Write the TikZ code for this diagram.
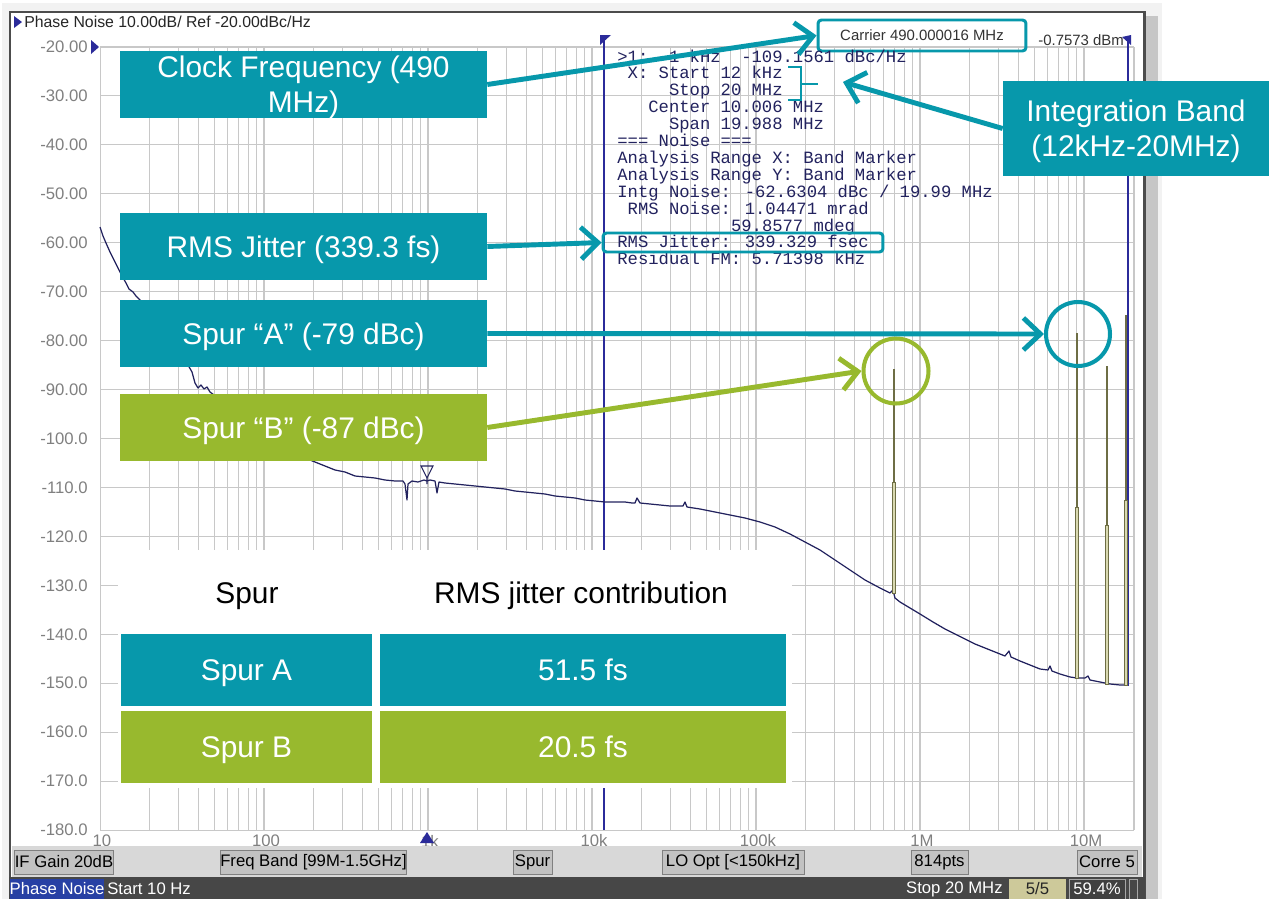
\documentclass[tikz,border=0pt]{standalone}
\usepackage{fontspec}
\setmainfont{Liberation Sans}
\newfontfamily\scrfont{Liberation Mono}
\usetikzlibrary{arrows.meta,positioning}

\definecolor{annoteal}{HTML}{0798AB}
\definecolor{annogreen}{HTML}{98B92E}
\definecolor{tracenavy}{HTML}{22225E}
\definecolor{gridgray}{HTML}{C8C8C8}
\definecolor{markblue}{HTML}{2B2B9A}
\definecolor{spurolive}{HTML}{6E6E45}
\definecolor{spurkhaki}{HTML}{D9D9B0}
\definecolor{barface}{HTML}{D8D8D8}
\definecolor{btnface}{HTML}{C2C2C2}
\definecolor{statusbg}{HTML}{474747}

\tikzset{
  callout/.style={fill=annoteal, text=white, font=\fontsize{17}{20}\selectfont, align=center,
    inner sep=0pt, text depth=0pt, minimum width=7.34cm, minimum height=1.34cm},
  callarrow/.style={draw=annoteal, line width=2.8pt, -{Straight Barb[length=3.4mm,width=6.4mm]}},
  cell/.style={text=white, font=\fontsize{17}{20}\selectfont, inner sep=0pt, text depth=0pt, minimum height=1.44cm},
  gridline/.style={draw=gridgray, line width=0.6pt},
  axlab/.style={text=gray, font=\fontsize{9.5}{11}\selectfont, inner sep=0pt},
  scrtext/.style={text=tracenavy, font=\scrfont\fontsize{9.8}{11}\selectfont, inner sep=0pt, anchor=base west},
  btn/.style={fill=btnface, draw=gray, font=\fontsize{9.5}{11}\selectfont, inner sep=0pt, minimum height=0.48cm},
  stat/.style={text=white, font=\fontsize{9.5}{11}\selectfont, inner sep=0pt},
}

\begin{document}
\begin{tikzpicture}[x=0.02cm, y=-0.02cm]
\useasboundingbox (0,0) rectangle (1269,899);

% analyzer window
\fill[gray!10] (2,3) rectangle (1162,899);
\fill[gray!45] (1146,16) rectangle (1158,899);
\filldraw[fill=white, draw=black!70, line width=1.7pt] (10,12) rectangle (1144,905);

% grid
\begin{scope}
\clip (100,47) rectangle (1134,830);
\foreach \d in {0,...,6}
  \foreach \k in {1,...,9}
    \draw[gridline] ({100+164*(\d+log10(\k))},47) -- ++(0,783);
\end{scope}
\foreach \i in {0,...,16}
  \draw[gridline] (100,{47+48.94*\i}) -- (1134,{47+48.94*\i});
\draw[gridline] (1134,47) -- (1134,830);

% axis labels
\foreach \v [count=\i from 0] in {-20.00,-30.00,-40.00,-50.00,-60.00,-70.00,-80.00,-90.00,-100.0,-110.0,-120.0,-130.0,-140.0,-150.0,-160.0,-170.0,-180.0}
  \node[axlab, anchor=east] (ylab\i) at (88,{47+48.94*\i}) {\v};
\foreach \lab [count=\d from 0] in {10,100,1k,10k,100k,1M,10M}
  \node[axlab] (xlab\d) at ({102+164*\d},841) {\lab};

\node[font=\fontsize{9}{11}\selectfont, text=black!85, anchor=west, inner sep=0pt] (title) at (24,22) {Phase Noise 10.00dB/ Ref -20.00dBc/Hz};
\fill[markblue] (14,16) -- (22,22) -- (14,28) -- cycle;
\fill[markblue] (91,40) -- (99,47) -- (91,54) -- cycle;

% band marker lines
\draw[markblue, line width=0.9pt] (604,37) -- (604,830);
\fill[markblue] (600,35) -- (611,35) -- (600,45) -- cycle;
\draw[markblue, line width=0.9pt] (1128,40) -- (1128,686);
\fill[markblue] (1131,35) -- (1131,45) -- (1122,37) -- cycle;

% trace
\draw[tracenavy, line width=0.7pt, line join=round] plot coordinates {
 (100,227) (103,236) (106,243) (110,252) (114,260) (118,268) (122,276) (126,283) (129,289)
 (133,292) (136,296) (140,300) (150,312) (160,325) (170,338) (180,352) (188,365) (192,372)
 (195,383) (198,388) (201,385) (204,389) (207,387) (210,392) (214,395) (220,402) (235,415)
 (250,428) (265,438) (280,447) (295,453) (305,458) (315,462) (325,466) (335,470) (345,472)
 (355,476) (365,477) (375,478) (385,480) (395,481) (403,481) (405,484) (407,500) (408,484)
 (412,481) (418,482) (424,480) (427,481) (430,480) (435,481) (437,493) (439,482) (445,483)
 (455,484) (465,485) (475,486) (485,487) (495,488) (505,489) (515,491) (525,492) (535,493)
 (545,494) (555,496) (565,497) (575,498) (585,500) (595,501) (605,502) (615,502) (625,502)
 (632,503) (635,503) (637,498) (640,503) (650,504) (660,505) (670,506) (680,506) (683,506)
 (685,502) (687,507) (700,509) (715,512) (730,515) (745,518) (760,522) (775,527) (790,534)
 (805,542) (820,550) (835,560) (850,570) (865,580) (880,588) (890,593) (893,590) (895,598)
 (900,602) (910,608) (920,614) (933,622) (945,629) (955,634) (965,639) (975,644) (985,648)
 (995,652) (1005,656) (1009,651) (1011,657) (1020,661) (1030,665) (1040,669) (1048,670)
 (1050,666) (1052,671) (1060,674) (1070,677) (1077,678) (1085,678) (1088,676) (1090,680)
 (1100,682) (1110,684) (1120,685) (1125,685) (1128,680)};

% spurs
\foreach \sx/\top/\mid/\bot in {894/369/482/593, 1077/333/507/678, 1107/366/525/684, 1126/315/500/685} {
  \draw[spurolive, line width=0.6pt] (\sx,\top) -- (\sx,\mid);
  \filldraw[fill=spurkhaki, draw=spurolive, line width=0.5pt] ({\sx-2},\mid) rectangle ({\sx+1},\bot);
}

% markers
\draw[tracenavy, line width=0.6pt] (421,466) -- (433,466) -- (427,478) -- cycle (427,478) -- (427,484);
\fill[markblue] (420,843) -- (434,843) -- (427,832) -- cycle;

% readout
\node[font=\fontsize{8.5}{10}\selectfont, text=black!80, draw=annoteal, line width=1.7pt, rounded corners=2pt,
  minimum width=4.16cm, minimum height=0.62cm, inner sep=0pt] (carrier) at (922,35.5) {Carrier 490.000016 MHz};
\node[font=\fontsize{8.5}{10}\selectfont, text=black!80, anchor=west, inner sep=0pt] (level) at (1038,40) {-0.7573 dBm};
\foreach \txt [count=\i] in {%
  >1:~~1 kHz~~-109.1561 dBc/Hz,
  ~X: Start 12 kHz,
  ~~~~~Stop 20 MHz,
  ~~~Center 10.006 MHz,
  ~~~~~Span 19.988 MHz,
  === Noise ===,
  Analysis Range X: Band Marker,
  Analysis Range Y: Band Marker,
  Intg Noise: -62.6304 dBc / 19.99 MHz,
  ~RMS Noise: 1.04471 mrad,
  ~~~~~~~~~~~59.8577 mdeg,
  RMS Jitter: 339.329 fsec,
  Residual FM: 5.71398 kHz}
  \node[scrtext] (info\i) at (617,{45.1+16.9*\i}) {\txt};
\node[draw=annoteal, line width=1.7pt, rounded corners=2pt, minimum width=5.6cm, minimum height=0.38cm, inner sep=0pt] (jitbox) at (743,242.5) {};
\draw[annoteal, line width=1.7pt] (788,67) -- (801,67) -- (801,100) -- (788,100) (801,84) -- (818,84);

% bottom bars
\fill[barface] (12,846) rectangle (1142,877);
\node[btn, minimum width=1.96cm] (ifgain) at (64,862) {IF Gain 20dB};
\node[btn, minimum width=3.66cm] (fband) at (313.5,862) {Freq Band [99M-1.5GHz]};
\node[btn, minimum width=0.78cm] (spurbtn) at (532.5,862) {Spur};
\node[btn, minimum width=2.84cm] (loopt) at (733,862) {LO Opt [<150kHz]};
\node[btn, minimum width=1.14cm] (npts) at (939.5,862) {814pts};
\node[btn, minimum width=1.2cm] (corre) at (1107,862) {Corre 5};
\fill[statusbg] (9,877) rectangle (1145,899);
\node[stat, fill=markblue!90!cyan, minimum width=1.8cm, minimum height=0.4cm] (mode) at (57,889) {Phase Noise};
\node[stat, anchor=west] (start) at (107,889) {Start 10 Hz};
\node[stat, anchor=east] (stop) at (1003,889) {Stop 20 MHz};
\node[stat, text=black!85, fill=yellow!35!gray!70, minimum width=1.14cm, minimum height=0.4cm] (avg) at (1037.5,889) {5/5};
\node[stat, fill=black!75, draw=gray!70, minimum width=1.12cm, minimum height=0.4cm] (pct) at (1097,889) {59.4\%};
\node[draw=gray!70, minimum width=0.16cm, minimum height=0.4cm, inner sep=0pt] (sbox) at (1133,889) {};

% table
\fill[white] (118,550) rectangle (792,788);
\node[cell, text=black] (hdspur) at (247,593) {Spur};
\node[cell, text=black] (hdjit) at (581,593) {RMS jitter contribution};
\node[cell, fill=annoteal, minimum width=5.02cm] (spa) at (246.5,670) {Spur A};
\node[cell, fill=annoteal, minimum width=8.12cm] (ja) at (583,670) {51.5 fs};
\node[cell, fill=annogreen, minimum width=5.02cm] (spb) at (246.5,747) {Spur B};
\node[cell, fill=annogreen, minimum width=8.12cm] (jb) at (583,747) {20.5 fs};

% callouts
\node[callout] (clock) at (303.5,84.5) {Clock Frequency (490\\MHz)};
\node[callout] (rms) at (303.5,246.5) {RMS Jitter (339.3 fs)};
\node[callout] (spura) at (303.5,333.5) {Spur “A” (-79 dBc)};
\node[callout, fill=annogreen] (spurb) at (303.5,427.5) {Spur “B” (-87 dBc)};
\node[callout, minimum width=5.32cm, minimum height=1.9cm] (intg) at (1136,128.5) {Integration Band\\(12kHz-20MHz)};
\node[circle, draw=annoteal, line width=2.3pt, minimum size=1.28cm, inner sep=0pt] (circa) at (1078,334) {};
\node[circle, draw=annogreen, line width=2.3pt, minimum size=1.3cm, inner sep=0pt] (circb) at (896,371) {};
\coordinate (bandtip) at (843,82);

\draw[callarrow] (clock.east) -- (carrier.west);
\draw[callarrow] (intg.west) -- (bandtip);
\draw[callarrow] (rms.east) -- (jitbox.west);
\draw[callarrow] (spura.east) -- (circa.west);
\draw[callarrow, draw=annogreen] (spurb.east) -- (circb.west);
\end{tikzpicture}
\end{document}
